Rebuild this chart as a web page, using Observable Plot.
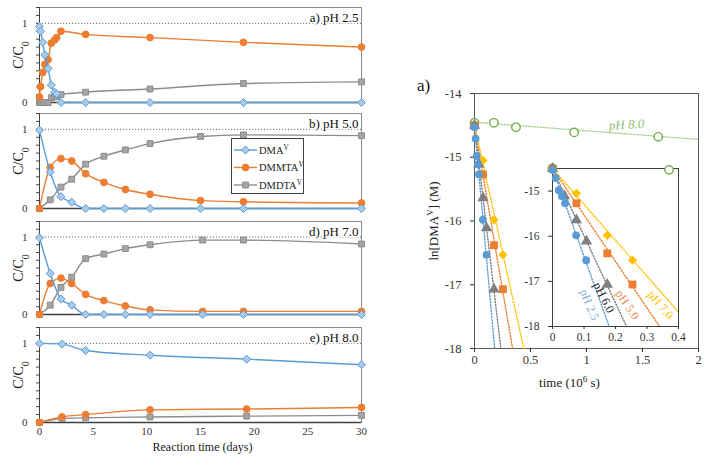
<!DOCTYPE html>
<html><head><meta charset="utf-8">
<script src="https://cdn.jsdelivr.net/npm/d3@7"></script>
<script src="https://cdn.jsdelivr.net/npm/@observablehq/plot@0.6"></script>
<style>
body{margin:0;background:#fff;}
#root{position:relative;width:710px;height:458px;overflow:hidden;font-family:"Liberation Serif",serif;}
#legend{position:absolute;left:231px;top:138px;width:73px;height:56px;border:1px solid #404040;background:#fff;box-sizing:border-box;z-index:5;}
</style></head><body><div id="root"><div id="legend"></div></div>
<script>
const serif = '"Liberation Serif", "DejaVu Serif", serif';
const BLUE = "#5B9BD5", ORANGE = "#ED7D31", GRAY = "#8C8C8C", YELLOW = "#FFC000", GREEN = "#70AD47";

// ---------- Left panels (C/C0 vs reaction time, days) ----------
const seriesNames = ["DMA^{V}", "DMMTA^{V}", "DMDTA^{V}"];
const panelLabels = ["a) pH 2.5", "b) pH 5.0", "d) pH 7.0", "e) pH 8.0"];
const xTicksDays = [0, 5, 10, 15, 20, 25, 30];

const daysA  = [0, 0.1, 0.3, 0.5, 0.8, 1.1, 1.4, 1.6, 2, 4.3, 10.3, 19, 30];
const dmaA   = [0.96, 0.9, 0.76, 0.6, 0.43, 0.22, 0.13, 0.11, 0, 0, 0, 0, 0];
const dmmtaA = [0.07, 0.2, 0.38, 0.48, 0.54, 0.75, 0.79, 0.82, 0.9, 0.86, 0.82, 0.76, 0.7];
const dmdtaA = [0, 0, 0, 0, 0, 0.06, 0.07, 0.08, 0.1, 0.13, 0.17, 0.24, 0.26];

const daysB  = [0, 1, 2, 3, 4.3, 6, 8, 10.3, 15, 19, 30];
const dmaB   = [0.99, 0.46, 0.15, 0.08, 0, 0, 0, 0, 0, 0, 0];
const dmmtaB = [0, 0.52, 0.63, 0.6, 0.44, 0.33, 0.24, 0.18, 0.1, 0.085, 0.07];
const dmdtaB = [0, 0.11, 0.27, 0.37, 0.56, 0.66, 0.74, 0.82, 0.91, 0.93, 0.92];

const daysD  = [0, 1, 2, 3, 4.3, 6, 8, 10.3, 15.2, 19, 30];
const dmaD   = [0.99, 0.53, 0.2, 0.12, 0, 0, 0, 0, 0, 0, 0];
const dmmtaD = [0, 0.4, 0.47, 0.4, 0.26, 0.18, 0.11, 0.06, 0.04, 0.04, 0.04];
const dmdtaD = [0, 0.12, 0.35, 0.48, 0.72, 0.78, 0.85, 0.9, 0.96, 0.96, 0.91];

const daysE  = [0, 2.1, 4.3, 10.3, 19.3, 30];
const dmaE   = [1.0, 0.99, 0.91, 0.85, 0.8, 0.73];
const dmmtaE = [0, 0.07, 0.1, 0.16, 0.17, 0.19];
const dmdtaE = [0, 0.05, 0.06, 0.07, 0.08, 0.09];

// ---------- Right panel: ln[DMA] vs time (1e6 s) ----------
const phNames = ["pH 2.5", "pH 6.0", "pH 5.0", "pH 7.0", "pH 8.0"];
const t25 = [0, 0.01, 0.02, 0.03, 0.04, 0.075, 0.107];
const ln25 = [-14.53, -14.71, -14.98, -15.11, -15.27, -15.98, -16.53];
const t60 = [0, 0.038, 0.076, 0.108, 0.174];
const ln60 = [-14.5, -15.11, -15.64, -16.11, -17.07];
const t50 = [0, 0.076, 0.174, 0.254];
const ln50 = [-14.5, -15.27, -16.38, -17.07];
const t70 = [0, 0.076, 0.174, 0.254];
const ln70 = [-14.5, -15.05, -15.98, -16.53];
const t80 = [0, 0.173, 0.37, 0.89, 1.64];
const ln80 = [-14.46, -14.46, -14.53, -14.61, -14.68];
const t80inset = [0, 0.37];
const ln80inset = [-14.5, -14.53];
// fitted trend lines (end points)
const fit25T = [0, 0.18],  fit25Ln = [-14.5, -18];
const fit60T = [0, 0.235], fit60Ln = [-14.5, -18];
const fit50T = [0, 0.34],  fit50Ln = [-14.5, -18];
const fit70T = [0, 0.44],  fit70Ln = [-14.5, -18];
const fit80T = [0, 2],     fit80Ln = [-14.45, -14.72];
const mainXTicks = [0, 0.5, 1, 1.5, 2], mainYTicks = [-14, -15, -16, -17, -18];
const insetXTicks = [0, 0.1, 0.2, 0.3, 0.4], insetYTicks = [-15, -16, -17, -18];

const root = document.getElementById("root");
const zip = (xs, ys) => xs.map((x, i) => ({x, y: ys[i]}));

function rich(el0) {
  el0.querySelectorAll("text, tspan").forEach(el => {
    if (el.children.length) return;
    const s = el.textContent;
    if (!/[\^_]\{/.test(s)) return;
    el.textContent = "";
    const re = /([\^_])\{([^}]*)\}/g; let last = 0, m;
    while ((m = re.exec(s))) {
      if (m.index > last) el.appendChild(document.createTextNode(s.slice(last, m.index)));
      const t = document.createElementNS("http://www.w3.org/2000/svg", "tspan");
      t.setAttribute("baseline-shift", m[1] === "^" ? "super" : "sub");
      t.setAttribute("font-size", "70%");
      t.textContent = m[2];
      el.appendChild(t);
      last = re.lastIndex;
    }
    if (last < s.length) el.appendChild(document.createTextNode(s.slice(last)));
  });
}

function place(svg, left, top) {
  svg.style.position = "absolute";
  svg.style.left = left + "px";
  svg.style.top = top + "px";
  svg.style.background = "transparent";
  svg.style.maxWidth = "none";
  root.appendChild(svg);
}

const left = [
  {days: daysA, s: [dmaA, dmmtaA, dmdtaA], label: panelLabels[0], top: 0,   mt: 7, h: 95, mb: 10},
  {days: daysB, s: [dmaB, dmmtaB, dmdtaB], label: panelLabels[1], top: 106, mt: 7, h: 95, mb: 10},
  {days: daysD, s: [dmaD, dmmtaD, dmdtaD], label: panelLabels[2], top: 212, mt: 9, h: 93, mb: 10},
  {days: daysE, s: [dmaE, dmmtaE, dmdtaE], label: panelLabels[3], top: 318, mt: 9, h: 95, mb: 36, xaxis: true}
];
const styles = [
  {color: BLUE, symbol: "diamond2", fill: "#A9CBEA", r: 3.6},
  {color: ORANGE, symbol: "circle", fill: ORANGE, r: 3.4},
  {color: GRAY, symbol: "square", fill: "#A5A5A5", r: 3.3}
];

left.forEach(p => {
  const marks = [
    Plot.frame({stroke: "#8c8c8c"}),
    Plot.ruleY([1], {stroke: "#666", strokeDasharray: "1.2,1.8"}),
    Plot.axisY(d3.range(0, 1.201, 0.1), {tickSize: 3, tickFormat: () => "", label: null, stroke: "#404040"}),
    Plot.axisY([0, 1], {tickSize: 0, tickPadding: 12, fontSize: 11, label: null, tickFormat: d => String(d)}),
    Plot.ruleX([0], {stroke: "#404040"}),
    Plot.ruleY([0], {stroke: "#404040", strokeWidth: 1.5})
  ];
  [2, 1, 0].forEach(k => {
    const st = styles[k], data = zip(p.days, p.s[k]);
    marks.push(Plot.line(data, {x: "x", y: "y", stroke: st.color, strokeWidth: 1.4, curve: "monotone-x"}));
    marks.push(Plot.dot(data, {x: "x", y: "y", symbol: st.symbol, r: st.r, fill: st.fill, stroke: st.color, strokeWidth: 1}));
  });
  marks.push(Plot.text([p.label], {text: d => d, frameAnchor: "top-right", textAnchor: "end", lineAnchor: "middle", dx: -3, dy: 10.5, fontSize: 13, fill: "#111", stroke: "white", strokeWidth: 3, paintOrder: "stroke"}));
  marks.push(Plot.text(["C/C_{0}"], {text: d => d, frameAnchor: "left", rotate: -90, textAnchor: "middle", lineAnchor: "middle", dx: -21, fontSize: 14, fill: "#222"}));
  if (p.xaxis) {
    marks.push(Plot.axisX(xTicksDays, {tickSize: 0, tickPadding: 5, fontSize: 11, label: null, tickFormat: d => String(d)}));
    marks.push(Plot.text(["Reaction time (days)"], {text: d => d, frameAnchor: "bottom", textAnchor: "middle", lineAnchor: "middle", dx: 2, dy: 25, fontSize: 12, fill: "#222"}));
  }
  const svg = Plot.plot({
    width: 370, height: p.mt + p.h + p.mb,
    marginLeft: 39, marginRight: 9, marginTop: p.mt, marginBottom: p.mb,
    style: {fontFamily: serif, color: "#333", background: "transparent"},
    x: p.xaxis ? {domain: [0, 30]} : {domain: [0, 30], axis: null},
    y: {domain: [0, 1.2]},
    marks
  });
  place(svg, 0, p.top);
});

// legend (panel b)
const lg = d3.select("#legend").append("svg").attr("width", 71).attr("height", 54).style("position", "absolute").style("left", "0px").style("top", "0px");
[0, 1, 2].forEach(k => {
  const st = styles[k], y = 11 + k * 17.5;
  lg.append("line").attr("x1", 2).attr("x2", 25).attr("y1", y).attr("y2", y).attr("stroke", st.color).attr("stroke-width", 1.4);
  const sym = {diamond2: d3.symbolDiamond2, circle: d3.symbolCircle, square: d3.symbolSquare}[st.symbol];
  lg.append("path").attr("d", d3.symbol(sym, Math.PI * st.r * st.r)()).attr("transform", `translate(13.5,${y})`).attr("fill", st.fill).attr("stroke", st.color);
  lg.append("text").attr("x", 27).attr("y", y).attr("dy", "0.35em").attr("font-size", 10.5).attr("font-family", serif).attr("fill", "#222").text(seriesNames[k]);
});

// ---------- right main panel ----------
const DASH = "1.2,1.8";
const fitLines = (t, l, c, clip) => Plot.line(zip(t, l), {x: "x", y: "y", stroke: c, strokeWidth: 1.4, strokeDasharray: DASH, clip});
const fits = [
  [fit80T, fit80Ln, "#A9D18E"], [fit25T, fit25Ln, BLUE], [fit60T, fit60Ln, "#7F7F7F"],
  [fit50T, fit50Ln, ORANGE], [fit70T, fit70Ln, YELLOW]
];
const dotMarks = (use80) => [
  Plot.dot(zip(use80[0], use80[1]), {x: "x", y: "y", r: 4.2, fill: "white", stroke: GREEN, strokeWidth: 1.4}),
  Plot.dot(zip(t70, ln70), {x: "x", y: "y", symbol: "diamond2", r: 4.2, fill: YELLOW}),
  Plot.dot(zip(t50, ln50), {x: "x", y: "y", symbol: "square", r: 4.4, fill: ORANGE}),
  Plot.dot(zip(t60, ln60), {x: "x", y: "y", symbol: "triangle", r: 4.2, fill: "#7F7F7F"}),
  Plot.dot(zip(t25, ln25), {x: "x", y: "y", r: 3.9, fill: BLUE})
];

const main = Plot.plot({
  width: 310, height: 348,
  marginLeft: 74, marginRight: 12, marginTop: 33, marginBottom: 60,
  style: {fontFamily: serif, color: "#333", background: "transparent"},
  x: {domain: [0, 2]},
  y: {domain: [-18, -14]},
  marks: [
    Plot.frame({stroke: "#595959"}),
    Plot.axisY(mainYTicks, {tickSize: 4, tickPadding: 9, fontSize: 12.5, label: null, tickFormat: d => String(d)}),
    Plot.axisX(mainXTicks, {tickSize: 4, tickPadding: 3, fontSize: 12.5, label: null, tickFormat: d => String(d)}),
    ...fits.map(([t, l, c]) => fitLines(t, l, c, false)),
    ...dotMarks([t80, ln80]),
    Plot.text([phNames[4]], {x: 1.357, y: -14.49, text: d => d, fontSize: 13, fontStyle: "italic", fill: "#8DBF6B", rotate: -3}),
    Plot.text(["ln[DMA^{V}] (M)"], {text: d => d, frameAnchor: "left", rotate: -90, textAnchor: "middle", lineAnchor: "middle", dx: -41, fontSize: 13, fill: "#222"}),
    Plot.text(["time (10^{6} s)"], {text: d => d, frameAnchor: "bottom", textAnchor: "middle", lineAnchor: "middle", dx: -17, dy: 34, fontSize: 13, fill: "#222"}),
    Plot.text(["a)"], {text: d => d, frameAnchor: "top-left", textAnchor: "middle", lineAnchor: "middle", dx: -51, dy: -8, fontSize: 17, fill: "#111"})
  ]
});
place(main, 400, 60);

// ---------- inset ----------
const insetLabels = [
  {x: 0.117, y: -17.52, text: phNames[0], c: "#7FB0DC", r: 68},
  {x: 0.163, y: -17.36, text: phNames[1], c: "#222", r: 63},
  {x: 0.238, y: -17.52, text: phNames[2], c: "#E98A4C", r: 57},
  {x: 0.343, y: -17.52, text: phNames[3], c: "#FFC000", r: 50}
];
const inset = Plot.plot({
  width: 190, height: 198,
  marginLeft: 52, marginRight: 12, marginTop: 18, marginBottom: 22,
  style: {fontFamily: serif, color: "#333", background: "transparent"},
  x: {domain: [0, 0.4]},
  y: {domain: [-18, -14.5]},
  marks: [
    Plot.frame({fill: "white", stroke: "none"}),
    ...fits.map(([t, l, c]) => fitLines(t, l, c, true)),
    Plot.frame({stroke: "#404040"}),
    ...dotMarks([t80inset, ln80inset]),
    ...insetLabels.map(d => Plot.text([d], {x: "x", y: "y", text: "text", rotate: d.r, fill: d.c, fontSize: 12})),
    Plot.axisY(insetYTicks, {tickSize: 4, tickPadding: 9, fontSize: 11.5, label: null, tickFormat: d => String(d)}),
    Plot.axisX(insetXTicks, {tickSize: 3, tickPadding: 3, fontSize: 11.5, label: null, tickFormat: d => String(d)})
  ]
});
place(inset, 500, 150);

rich(root);
</script></body></html>
